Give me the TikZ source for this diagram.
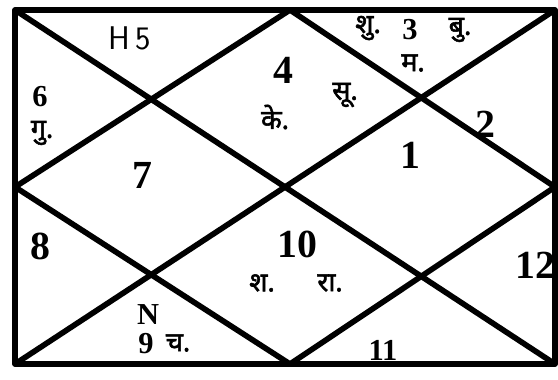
\documentclass[tikz,border=0pt]{standalone}
\usepackage{fontspec}
\setmainfont{Liberation Serif}
\newfontfamily\deva[Script=Devanagari, FakeBold=2]{Noto Sans}
\tikzset{line/.style={line width=4.8pt, line join=round},
  big/.style={font=\bfseries\fontsize{34}{34}\selectfont, inner sep=0pt},
  small/.style={font=\bfseries\fontsize{26}{26}\selectfont, inner sep=0pt},
  graha/.style={font=\deva\fontsize{23}{23}\selectfont, inner sep=0pt}}

\begin{document}
\begin{tikzpicture}[x=0.03cm, y=-0.03cm]
\useasboundingbox (0,0) rectangle (558,379);
% corners and mid points of the chart
\coordinate (tl) at (15,10);
\coordinate (tr) at (555,10);
\coordinate (br) at (555,364);
\coordinate (bl) at (15,364);
\coordinate (t) at (290,10);
\coordinate (r) at (555,187);
\coordinate (b) at (290,364);
\coordinate (l) at (15,187);
\draw[line] (tl) rectangle (br);
\draw[line] (tl) -- (br);
\draw[line] (tr) -- (bl);
\draw[line] (t) -- (r) -- (b) -- (l) -- cycle;

% houses
\node[small, font=\sffamily\fontsize{28}{28}\selectfont] (h5) at (130,38) {H\,5};
\node[small] (h6) at (40,97) {6};
\node[graha] (gu) at (42,133) {गु.};
\node[big] (h7) at (142,175) {7};
\node[big] (h4) at (283,70) {4};
\node[graha] (su) at (345,95) {सू.};
\node[graha] (ke) at (275,117) {के.};
\node[graha] (shu) at (368,28) {शु.};
\node[small] (h3) at (410,30) {3};
\node[graha] (bu) at (460,30) {बु.};
\node[graha] (ma) at (413,63) {म.};
\node[big] (h1) at (410,155) {1};
\node[big] (h2) at (485,124) {2};
\node[big] (h8) at (40,246) {8};
\node[big] (h10) at (297,244) {10};
\node[graha] (sha) at (262,283) {श.};
\node[graha] (ra) at (330,283) {रा.};
\node[small] (n) at (148,315) {N};
\node[small] (h9) at (146,344) {9};
\node[graha] (ch) at (178,343) {च.};
\node[small] (h11) at (383,350) {11};
\node[big] (h12) at (535,265) {12};
\end{tikzpicture}
\end{document}
